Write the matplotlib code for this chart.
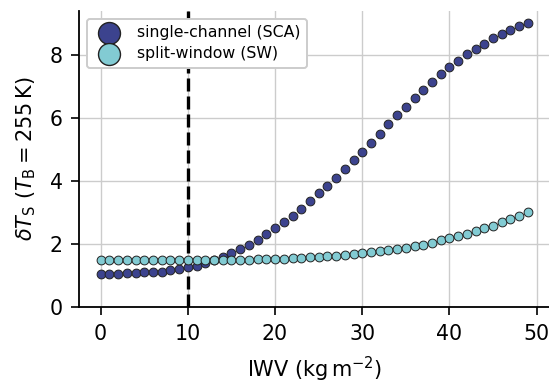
import numpy as np
import matplotlib
matplotlib.use("Agg")
import matplotlib.pyplot as plt

# integrated water vapour (kg m-2)
iwv = np.arange(50)

# single-channel algorithm error
sca = [1.06, 1.06, 1.06, 1.07, 1.08, 1.10, 1.11, 1.12, 1.17, 1.20,
       1.26, 1.31, 1.39, 1.49, 1.60, 1.72, 1.84, 1.98, 2.12, 2.31,
       2.50, 2.70, 2.87, 3.11, 3.35, 3.60, 3.84, 4.10, 4.37, 4.66,
       4.92, 5.21, 5.49, 5.79, 6.07, 6.35, 6.61, 6.87, 7.13, 7.38,
       7.60, 7.80, 8.02, 8.18, 8.35, 8.51, 8.66, 8.77, 8.90, 8.99]

# split-window error
sw = [1.49, 1.49, 1.49, 1.49, 1.49, 1.49, 1.49, 1.49, 1.49, 1.49,
      1.49, 1.49, 1.49, 1.50, 1.50, 1.50, 1.50, 1.50, 1.51, 1.51,
      1.52, 1.53, 1.54, 1.56, 1.57, 1.59, 1.61, 1.63, 1.65, 1.67,
      1.70, 1.73, 1.76, 1.80, 1.84, 1.88, 1.93, 1.98, 2.04, 2.11,
      2.18, 2.24, 2.31, 2.40, 2.49, 2.58, 2.68, 2.79, 2.89, 3.02]

iwv_threshold = 10

fig = plt.figure(figsize=(5.49, 3.85), dpi=100)
ax = fig.add_axes([79.3 / 549, 1 - 307 / 385, 470 / 549, 296 / 385])

ax.grid(True, color='#cccccc', linewidth=1.0, zorder=0)
ax.set_axisbelow(True)

ax.axvline(iwv_threshold, color='k', linestyle=(0, (3.9, 1.5)), linewidth=2.4, zorder=2)
ax.scatter(iwv, sca, s=40, color='#3c438e', edgecolor='#222222', linewidth=0.7,
           label='single-channel (SCA)', zorder=3)
ax.scatter(iwv, sw, s=40, color='#82cbd3', edgecolor='#222222', linewidth=0.7,
           label='split-window (SW)', zorder=3)

ax.set_xlim(-2.45, 51.45)
ax.set_ylim(0, 9.38)
ax.set_xticks([0, 10, 20, 30, 40, 50])
ax.set_yticks([0, 2, 4, 6, 8])
ax.tick_params(labelsize=14.8, length=6, width=1.2, pad=6)

for side in ['top', 'right']:
    ax.spines[side].set_visible(False)
for side in ['left', 'bottom']:
    ax.spines[side].set_linewidth(1.3)

ax.set_xlabel(r'IWV ($\mathrm{kg\,m^{-2}}$)', fontsize=15, labelpad=8)
ax.set_ylabel(r'$\delta T_\mathrm{S}$ ($T_\mathrm{B} = 255\,\mathrm{K}$)', fontsize=15, labelpad=8)

leg = ax.legend(loc='upper left', fontsize=11.3, markerscale=2.5, framealpha=1,
                edgecolor='#cccccc', borderaxespad=0.5, handletextpad=0.8,
                borderpad=0.4, labelspacing=0.4)
leg.get_frame().set_linewidth(1.4)
for h in leg.legend_handles:
    h.set_linewidth(1.0)

fig.savefig('out.png', dpi=100)
